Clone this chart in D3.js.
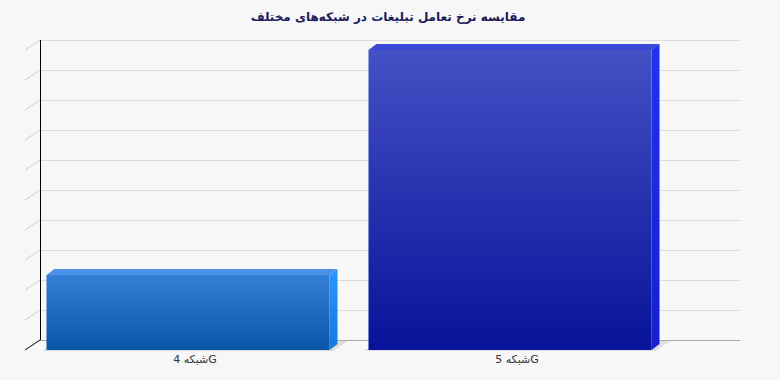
<!DOCTYPE html>
<html>
<head>
<meta charset="utf-8">
<script src="https://cdn.jsdelivr.net/npm/d3@7"></script>
<style>
  body { margin: 0; background: #f7f7f7; }
  svg { display: block; }
</style>
</head>
<body>
<svg class="chart" width="780" height="380"></svg>
<script>
const title = "مقایسه نرخ تعامل تبلیغات در شبکه‌های مختلف";
const categories = ["شبکه 4G", "شبکه 5G"];
const values = [2.5, 10];
const yTicks = [0, 1, 2, 3, 4, 5, 6, 7, 8, 9, 10];

const colors = [
  {top: "#4a92e6", sideA: "#2a96ff", sideB: "#1578e0", frontA: "#3580d6", frontB: "#0a55a8"},
  {top: "#3a48d6", sideA: "#2232ee", sideB: "#1420d0", frontA: "#4450c4", frontB: "#08129a"}
];

const svgWidth = 780;
const svgHeight = 380;

// 3d offsets: back wall and bar depth
const wall = {dx: 15, dy: -10};
const depth = {dx: 8, dy: -6};

const svg = d3.select('svg.chart');

const x = d3.scaleBand()
  .domain(categories)
  .range([27, 671])
  .paddingInner(0.121)
  .paddingOuter(0.0605);

const y = d3.scaleLinear()
  .domain([0, 10])
  .range([350, 50]);

const defs = svg.append('defs');
colors.forEach((c, i) => {
  const g = defs.append('linearGradient')
    .attr('id', 'front' + i)
    .attr('x1', 0).attr('y1', 0).attr('x2', 0).attr('y2', 1);
  g.append('stop').attr('offset', '0%').attr('stop-color', c.frontA);
  g.append('stop').attr('offset', '100%').attr('stop-color', c.frontB);
  const s = defs.append('linearGradient')
    .attr('id', 'side' + i)
    .attr('x1', 0).attr('y1', 0).attr('x2', 0).attr('y2', 1);
  s.append('stop').attr('offset', '0%').attr('stop-color', c.sideA);
  s.append('stop').attr('offset', '100%').attr('stop-color', c.sideB);
});

// title
svg.append('text')
  .text(title)
  .attr('x', 388)
  .attr('y', 21)
  .attr('text-anchor', 'middle')
  .style('font-family', "'DejaVu Sans', sans-serif")
  .style('font-weight', 'bold')
  .style('font-size', '12px')
  .style('fill', '#1c1c5c');

// grid lines on back wall
const grid = svg.append('g').attr('class', 'grid');
grid.selectAll('line.h')
  .data(yTicks)
  .enter()
  .append('line')
  .attr('class', 'h')
  .attr('x1', 25 + wall.dx)
  .attr('x2', 725 + wall.dx)
  .attr('y1', d => y(d) + wall.dy + 0.5)
  .attr('y2', d => y(d) + wall.dy + 0.5)
  .style('stroke', d => d === 0 ? '#aaaaaa' : '#dcdcdc')
  .style('stroke-width', 1);

// diagonal depth ticks on the side
grid.selectAll('line.d')
  .data(yTicks)
  .enter()
  .append('line')
  .attr('class', 'd')
  .attr('x1', 25)
  .attr('y1', d => y(d))
  .attr('x2', 25 + wall.dx)
  .attr('y2', d => y(d) + wall.dy)
  .style('stroke', d => d === 0 ? '#000' : '#cfcfcf')
  .style('stroke-width', 1);

// vertical axis line
svg.append('line')
  .attr('x1', 40.5).attr('x2', 40.5)
  .attr('y1', y(10) + wall.dy)
  .attr('y2', y(0) + wall.dy)
  .style('stroke', '#000');

// bars
const bars = svg.selectAll('g.bar')
  .data(categories.map((c, i) => ({cat: c, value: values[i], idx: i})))
  .enter()
  .append('g')
  .attr('class', 'bar');

// floor shadow
bars.append('polygon')
  .attr('points', d => {
    const x0 = x(d.cat), x1 = x0 + x.bandwidth(), b = y(0);
    return [[x0 - 4, b + 1], [x1 + 4, b + 1], [x1 + 18, b - 9], [x0 + 10, b - 9]].join(' ');
  })
  .style('fill', '#dedede');

bars.append('polygon')
  .attr('points', d => {
    const x0 = x(d.cat), x1 = x0 + x.bandwidth(), t = y(d.value);
    return [[x0, t], [x0 + depth.dx, t + depth.dy], [x1 + depth.dx, t + depth.dy], [x1, t]].join(' ');
  })
  .style('fill', d => colors[d.idx].top);

bars.append('polygon')
  .attr('points', d => {
    const x1 = x(d.cat) + x.bandwidth(), t = y(d.value), b = y(0);
    return [[x1, t], [x1 + depth.dx, t + depth.dy], [x1 + depth.dx, b + depth.dy], [x1, b]].join(' ');
  })
  .style('fill', d => `url(#side${d.idx})`);

bars.append('rect')
  .attr('x', d => x(d.cat))
  .attr('y', d => y(d.value))
  .attr('width', x.bandwidth())
  .attr('height', d => y(0) - y(d.value))
  .style('fill', d => `url(#front${d.idx})`);

// category labels
svg.selectAll('text.cat')
  .data(categories)
  .enter()
  .append('text')
  .attr('class', 'cat')
  .text(d => d)
  .attr('x', d => x(d) + x.bandwidth() / 2 + 7)
  .attr('y', 363)
  .attr('text-anchor', 'middle')
  .style('font-family', "'DejaVu Sans', sans-serif")
  .style('font-size', '11px')
  .style('fill', '#333');
</script>
</body>
</html>
